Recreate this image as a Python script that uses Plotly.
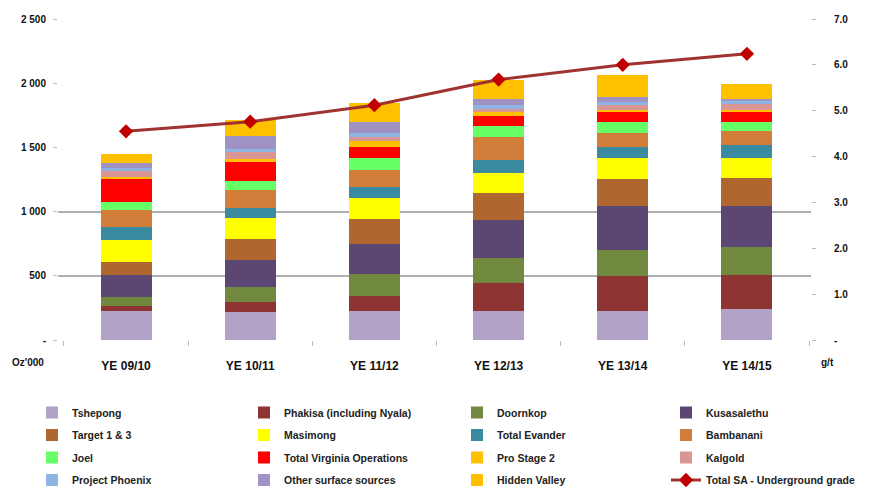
import plotly.graph_objects as go

categories = ["YE 09/10", "YE 10/11", "YE 11/12", "YE 12/13", "YE 13/14", "YE 14/15"]

series_names = [
    "Tshepong", "Phakisa (including Nyala)", "Doornkop", "Kusasalethu",
    "Target 1 & 3", "Masimong", "Total Evander", "Bambanani",
    "Joel", "Total Virginia Operations", "Pro Stage 2", "Kalgold",
    "Project Phoenix", "Other surface sources", "Hidden Valley",
]

tshepong   = [223, 215, 223, 228, 226, 239]
phakisa    = [44, 78, 122, 215, 273, 265]
doornkop   = [65, 117, 169, 195, 203, 221]
kusasa     = [171, 215, 231, 298, 340, 317]
target     = [106, 161, 197, 208, 210, 223]
masimong   = [169, 166, 161, 156, 164, 151]
evander    = [99, 75, 91, 101, 91, 104]
bambanani  = [138, 138, 132, 177, 104, 104]
joel       = [60, 75, 93, 88, 83, 75]
virginia   = [179, 145, 86, 78, 83, 78]
prostage2  = [13, 26, 47, 29, 13, 13]
kalgold    = [47, 57, 29, 26, 42, 47]
phoenix    = [23, 23, 29, 34, 23, 26]
other_surf = [44, 101, 88, 44, 36, 13]
hidden_val = [68, 122, 148, 150, 171, 117]

grade_name = "Total SA - Underground grade"
grade = [4.55, 4.76, 5.12, 5.68, 6.0, 6.24]

left_ticks = [0, 500, 1000, 1500, 2000, 2500]
left_ticktext = ["-", "500", "1 000", "1 500", "2 000", "2 500"]
right_ticks = [0, 1, 2, 3, 4, 5, 6, 7]
right_ticktext = ["-", "1.0", "2.0", "3.0", "4.0", "5.0", "6.0", "7.0"]
grid_levels = [500, 1000, 2500]

series_values = [tshepong, phakisa, doornkop, kusasa, target, masimong, evander,
                 bambanani, joel, virginia, prostage2, kalgold, phoenix,
                 other_surf, hidden_val]
colors = ["#B3A2C7", "#8E3533", "#71893F", "#5C4674", "#B0672F", "#FFFF00",
          "#3A8BA0", "#D27D3A", "#66FF66", "#FF0000", "#FFC000", "#D99694",
          "#8DB4E2", "#A093C4", "#FFC000"]

legend_ids = ["legend", "legend2", "legend3", "legend4"]

fig = go.Figure()
for i, (name, vals, col) in enumerate(zip(series_names, series_values, colors)):
    fig.add_trace(go.Bar(x=categories, y=vals, name=name, marker_color=col,
                         marker_line_width=0, yaxis="y",
                         legend=legend_ids[i % 4], legendgroup="g%d" % i))

fig.add_trace(go.Scatter(x=categories, y=grade, name=grade_name, yaxis="y2",
                         mode="lines+markers",
                         line=dict(color="#A0332F", width=3),
                         marker=dict(symbol="diamond", size=11, color="#C00000"),
                         legend=legend_ids[15 % 4], legendgroup="g15"))

# invisible trace to activate the grid axis
fig.add_trace(go.Scatter(x=[categories[0]], y=[0], yaxis="y3", mode="markers",
                         marker=dict(opacity=0), showlegend=False, hoverinfo="skip"))

# page body has an 8px margin: figure origin sits at (8, 8) of the window
OFF = 8
W, H = 871 - OFF, 491 - OFF
plot_left, plot_right, plot_top, plot_bottom = 58, 811, 19, 340  # window px
L = plot_left - OFF
T = plot_top - OFF
R = W - (plot_right - OFF)
B = H - (plot_bottom - OFF)
pw = W - L - R
ph = H - T - B

def px_x(px):
    return (px - OFF - L) / pw

def px_y(py):
    return (H - B - (py - OFF)) / ph

tick_font = dict(family="Liberation Sans", size=10, color="#111111", weight="bold")
xtick_font = dict(family="Liberation Sans", size=12, color="#111111", weight="bold")
leg_font = dict(family="Liberation Sans", size=10.5, color="#222222", weight="bold")

legend_text_x = [72, 284, 497, 706]
legends = {}
for lid, tx in zip(legend_ids, legend_text_x):
    legends[lid] = dict(orientation="v", x=px_x(tx - 40), xanchor="left",
                        y=px_y(398), yanchor="top", font=leg_font,
                        traceorder="grouped", tracegroupgap=3.5,
                        bgcolor="rgba(0,0,0,0)")

fig.update_layout(
    width=W, height=H,
    margin=dict(l=L, r=R, t=T, b=B, pad=0, autoexpand=False),
    barmode="stack", bargap=0.59,
    plot_bgcolor="white", paper_bgcolor="white",
    font=tick_font,
    xaxis=dict(type="category", range=[-0.548, 5.516], showgrid=False,
               ticks="outside", tickson="boundaries", ticklen=5,
               tickcolor="#BBBBBB", showline=False, tickfont=xtick_font,
               ticklabelstandoff=17),
    yaxis=dict(range=[0, 2500], tickvals=left_ticks, ticktext=left_ticktext,
               showgrid=False, zeroline=False, ticks="outside", ticklen=4,
               tickcolor="#BBBBBB", tickfont=tick_font, ticklabelstandoff=5),
    yaxis2=dict(range=[0, 7], tickvals=right_ticks, ticktext=right_ticktext,
                overlaying="y", side="right", showgrid=False, zeroline=False,
                ticks="outside", ticklen=4, tickcolor="#BBBBBB", tickfont=tick_font,
                ticklabelstandoff=16),
    yaxis3=dict(range=[0, 2500], tickvals=grid_levels, overlaying="y",
                showticklabels=False, showgrid=True, gridcolor="#B0B0B0",
                gridwidth=1.5, zeroline=False),
    showlegend=True,
    annotations=[
        dict(text="Oz'000", xref="paper", yref="paper", x=px_x(28), y=px_y(362),
             xanchor="center", yanchor="middle", showarrow=False, font=tick_font),
        dict(text="g/t", xref="paper", yref="paper", x=px_x(827), y=px_y(362),
             xanchor="center", yanchor="middle", showarrow=False, font=tick_font),
    ],
    **legends,
)

fig.write_html("out.html")
